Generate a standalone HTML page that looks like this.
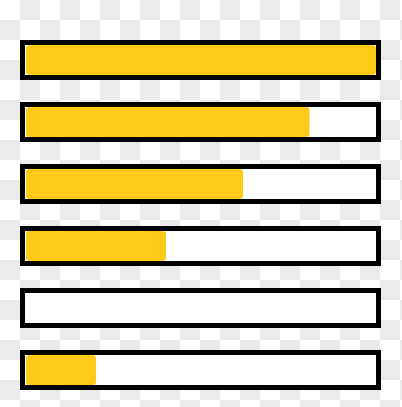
<!DOCTYPE html>
<html><head><meta charset="utf-8"><style>
html,body{margin:0;padding:0;width:402px;height:407px;overflow:hidden;background:#fff;}
</style></head><body>
<svg id="chart" width="402" height="407" style="position:absolute;left:0;top:0">
<defs><pattern id="chk" x="0" y="0" width="40" height="40" patternUnits="userSpaceOnUse">
<rect x="0" y="0" width="40" height="40" fill="#fff"/>
<rect x="20" y="0" width="20" height="20" fill="#ebebeb"/>
<rect x="0" y="20" width="20" height="20" fill="#ebebeb"/>
</pattern></defs>
<rect x="0" y="0" width="402" height="407" fill="url(#chk)"/>
</svg>
<script>
const categories=["bar-1","bar-2","bar-3","bar-4","bar-5","bar-6"];
const values=[100,81,62,40,0,20];
const maxValue=[100];
const svg=document.getElementById('chart');
const NS='http://www.w3.org/2000/svg';
const x0=26,innerW=350,top0=40,step=62,h=40;
function xScale(v){return v/maxValue[0]*innerW;}
function yPos(i){return top0+i*step;}
categories.forEach((c,i)=>{
  const g=document.createElementNS(NS,'g');
  
  
  const box=document.createElementNS(NS,'rect');
  box.setAttribute('x',22.5);box.setAttribute('y',yPos(i)+2.5);
  box.setAttribute('width',356);box.setAttribute('height',h-5);
  box.setAttribute('fill','#fff');box.setAttribute('stroke','#000');box.setAttribute('stroke-width',5);
  
  
  g.appendChild(box);
  const w=xScale(values[i]);
  if(w>0){
    const f=document.createElementNS(NS,'rect');
    f.setAttribute('x',x0);f.setAttribute('y',yPos(i)+5);
    f.setAttribute('width',w);f.setAttribute('height',h-10);
    f.setAttribute('rx',3);f.setAttribute('fill','#fdca17');
    
    
    g.appendChild(f);
  }
  svg.appendChild(g);
});
</script>
</body></html>
